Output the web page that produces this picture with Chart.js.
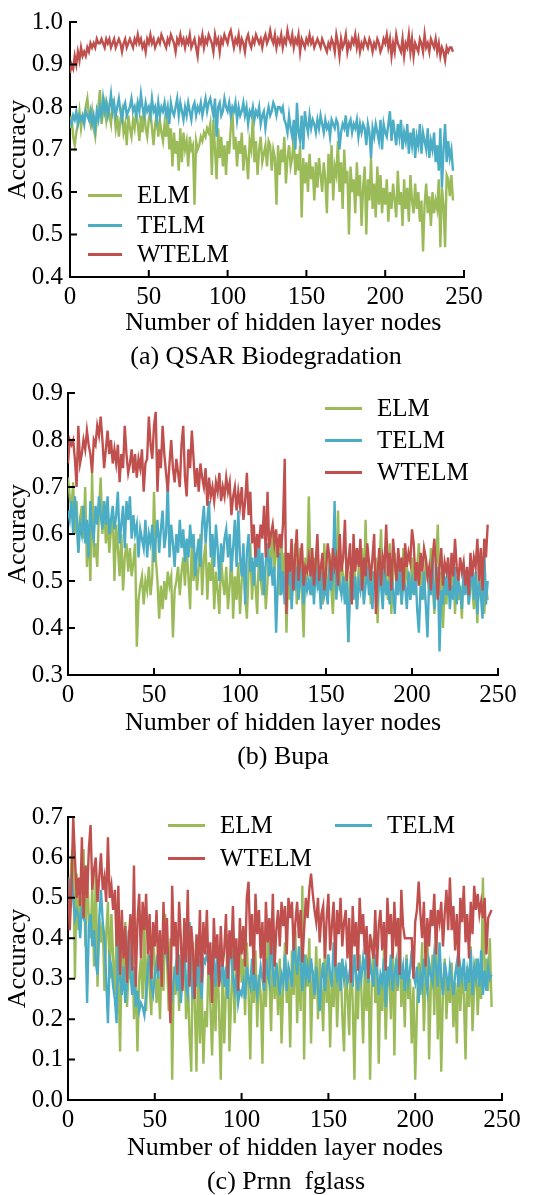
<!DOCTYPE html>
<html>
<head>
<meta charset="utf-8"/>
<title>Accuracy vs number of hidden layer nodes</title>
<script src="https://cdn.jsdelivr.net/npm/chart.js@4.4.0/dist/chart.umd.min.js"></script>
<style>
body{margin:0;background:#fff;width:546px;height:1195px;position:relative;overflow:hidden;font-family:"Liberation Serif","Times New Roman",serif;color:#000;}
canvas{position:absolute;left:0;}
.cap{position:absolute;font-size:26px;line-height:30px;white-space:pre;transform:translateX(-50%);}
.leg{position:absolute;font-size:25px;line-height:30px;display:flex;align-items:center;white-space:nowrap;}
.leg i{display:inline-block;height:3px;}
</style>
</head>
<body>
<canvas id="chartA" width="546" height="345" style="top:0px"></canvas>
<canvas id="chartB" width="546" height="380" style="top:370px"></canvas>
<canvas id="chartC" width="546" height="380" style="top:790px"></canvas>
<div class="cap" style="left:266px;top:341px">(a) QSAR Biodegradation</div>
<div class="cap" style="left:283px;top:741px">(b) Bupa</div>
<div class="cap" style="left:286px;top:1166px">(c) Prnn  fglass</div>
<div id="legends"></div>
<script>
// accuracy values in percent, one value per hidden node count (0, 1, 2, ...)
var qsarElm = [
75,78,73,71,74,76,79,75,78,77,80,82,78,76,79,75,73,77,80,84,
76,79,81,77,80,78,76,82,79,75,78,73,77,79,74,76,71,78,75,73,
77,75,79,76,72,78,74,80,75,73,77,79,75,71,76,78,73,77,74,72,
76,73,78,70,75,66,74,69,72,65,75,67,74,70,72,66,73,70,71,57,
72,70,71,73,72,74,73,75,74,76,64,77,70,63,75,68,73,66,71,64,
72,69,75,80,70,73,66,72,69,74,65,71,68,63,72,70,78,67,72,64,
70,73,67,69,71,66,72,71,65,70,68,57,71,64,70,67,73,62,68,71,
66,68,73,64,69,65,71,54,68,62,67,60,69,63,66,58,67,61,68,64,
60,67,63,55,69,62,71,58,66,64,72,60,67,56,70,62,65,50,66,60,
63,55,67,59,64,52,61,66,50,63,58,68,56,62,54,66,57,64,55,61,
57,63,53,60,56,62,58,54,65,57,60,52,63,56,61,53,64,58,55,62,
56,60,53,58,46,57,62,55,59,52,60,55,58,56,63,47,61,57,47,64,
63,59,64,58];
var qsarTelm = [
77,76,78,77,79,76,78,77,78,76,79,78,77,79,76,78,75,79,77,80,
78,82,79,81,78,80,83,79,81,78,80,82,79,77,80,81,78,79,80,82,
79,80,78,81,79,83,80,78,81,79,80,78,82,79,80,77,81,78,80,79,
81,78,80,76,81,79,78,80,82,78,81,79,77,80,78,81,79,77,80,81,
78,80,79,81,78,80,82,79,81,82,80,78,82,73,80,81,78,79,82,80,
79,81,78,80,79,81,77,80,78,79,81,78,80,76,79,78,80,77,79,78,
80,76,78,79,75,78,80,78,79,81,80,78,80,80,79,80,77,76,74,78,
75,73,77,70,81,74,72,78,70,79,76,74,78,75,77,76,74,77,75,78,
76,74,77,75,76,73,77,76,75,77,76,70,74,76,75,78,73,76,77,74,
76,75,77,73,76,74,76,75,71,76,74,68,75,73,76,74,72,77,70,76,
74,73,76,79,72,77,74,71,76,73,77,70,74,72,76,69,74,71,75,68,
73,71,76,69,74,72,70,75,68,72,70,74,67,71,65,75,61,70,76,67,
72,68,70,65];
var qsarWtelm = [
88,90,89,92,90,93,91,94,92,93,92,94,93,95,94,95,94,96,95,95,
96,95,94,96,95,96,94,95,96,94,95,96,95,93,95,96,94,95,96,95,
94,96,95,97,95,96,94,95,93,96,95,97,95,96,94,95,96,95,97,96,
95,94,96,95,97,96,95,93,96,95,97,95,96,94,96,95,97,94,95,96,
94,92,96,95,97,94,96,95,97,96,95,93,97,95,96,93,96,95,97,96,
95,97,98,96,94,96,95,97,94,96,95,93,96,97,95,94,96,95,97,96,
95,96,94,96,97,95,96,98,96,95,97,94,96,95,97,94,96,95,98,96,
95,97,94,96,95,97,93,96,95,94,96,95,97,95,96,94,95,96,95,94,
96,95,94,93,95,94,96,95,93,97,95,92,96,94,95,97,93,95,94,96,
95,97,94,96,93,95,94,96,95,94,96,95,93,95,94,96,95,93,94,96,
95,97,94,96,92,95,93,97,95,94,93,96,92,95,94,97,93,96,92,95,
94,93,96,95,93,97,94,95,93,96,95,94,96,93,95,92,94,93,91,94,
93,94,94,93];

var bupaElm = [
72,68,65,71,60,67,56,63,66,59,70,53,62,50,73,55,58,53,65,72,
60,67,58,63,56,61,65,50,62,57,51,60,48,55,58,52,57,51,54,58,
36,46,49,51,45,50,48,53,47,51,69,55,50,42,49,44,50,46,52,49,
51,38,48,50,53,47,52,55,49,57,51,44,59,50,56,48,53,60,47,55,
58,46,54,50,56,44,52,48,43,55,50,47,53,44,49,57,42,51,46,54,
43,50,55,47,42,52,58,46,54,49,43,56,51,47,53,44,50,57,54,60,
52,58,55,47,60,50,56,39,52,46,54,49,58,45,51,57,48,38,55,50,
68,52,47,55,50,57,48,53,45,58,51,47,56,49,43,53,50,65,48,54,
51,46,55,37,52,48,56,50,44,53,49,57,46,63,50,54,45,52,48,55,
41,53,61,47,55,50,46,58,43,52,56,48,54,50,45,57,49,53,51,46,
55,50,47,53,58,49,52,46,55,51,48,57,50,43,53,62,47,52,40,49,
45,53,50,47,55,43,51,46,49,42,53,48,51,45,52,49,44,50,41,54,
47,51,43,49,46];
var bupaTelm = [
65,63,67,60,68,64,56,62,60,66,58,63,55,67,61,59,66,62,68,64,
61,67,62,68,60,63,66,61,64,69,58,62,66,57,67,63,68,59,64,60,
62,55,61,59,57,63,55,60,58,62,54,59,63,56,61,65,57,60,71,55,
62,58,53,60,56,63,57,61,54,59,55,62,57,60,51,56,59,53,62,66,
58,63,67,55,60,53,62,57,50,58,54,59,61,55,60,52,57,63,53,65,
55,51,58,45,56,60,52,55,49,57,53,59,50,56,47,54,58,51,55,49,
53,39,50,56,47,52,45,53,49,55,44,51,48,53,46,50,52,45,51,48,
50,47,52,45,53,49,51,44,52,47,49,45,53,48,51,67,46,52,49,47,
51,45,50,37,48,53,46,51,44,50,48,52,45,49,53,47,50,44,52,48,
46,51,49,44,53,47,50,45,52,48,43,51,47,53,45,50,49,44,52,46,
50,47,53,44,39,49,46,52,45,38,51,47,55,44,49,53,35,48,45,51,
47,52,44,49,46,53,45,50,48,44,52,47,51,45,49,54,46,52,43,50,
47,42,57,45,50];
var bupaWtelm = [
75,80,79,80,76,70,83,75,77,80,78,82,79,77,73,80,79,83,81,85,
80,74,78,82,77,80,75,78,75,79,71,77,74,83,77,73,75,78,73,77,
72,76,74,78,69,75,76,85,79,76,83,86,69,78,74,83,77,73,69,75,
80,74,71,76,73,70,79,83,72,68,78,74,82,76,70,74,69,75,72,70,
74,66,72,68,70,67,71,69,73,67,70,68,72,69,71,64,68,70,65,69,
66,70,63,67,73,64,69,58,62,55,60,57,62,59,66,55,69,57,60,62,
58,61,55,60,57,62,76,43,56,52,59,48,55,61,50,54,58,49,53,52,
55,51,57,49,54,60,50,53,56,48,52,58,55,50,57,53,55,49,60,52,
55,63,50,54,58,45,60,52,57,53,59,48,55,51,58,54,50,55,60,43,
52,57,49,55,53,62,51,56,48,59,54,50,57,52,55,48,58,53,56,54,
61,58,50,54,49,56,52,57,55,51,53,48,55,59,52,46,53,57,49,54,
52,55,48,56,51,59,53,50,55,52,54,49,53,47,56,51,55,53,59,50,
57,48,59,55,62];

var glassElm = [
55,48,60,63,30,56,42,50,45,62,38,58,44,40,53,33,56,28,45,39,
44,27,41,49,30,46,35,26,42,31,12,38,27,44,23,33,30,39,20,32,
12,30,35,25,44,22,36,28,21,40,34,24,31,20,37,27,46,35,22,40,
5,33,26,38,22,35,28,41,20,31,16,7,39,24,7,35,14,28,9,22,
18,36,24,11,30,17,38,22,5,32,14,28,41,12,25,37,19,33,26,40,
29,35,21,39,27,10,33,24,37,18,31,26,9,35,23,40,30,17,38,25,
33,21,35,14,28,39,24,31,13,37,26,42,19,34,22,53,10,36,28,40,
14,32,25,38,20,35,27,17,39,24,33,13,30,23,37,18,29,34,21,12,
33,26,16,38,24,5,31,20,36,27,14,33,22,38,5,29,40,24,34,9,
31,22,37,15,29,33,20,41,11,35,27,45,23,32,18,36,25,30,14,28,
5,22,34,26,39,17,31,43,10,28,36,21,44,15,32,7,27,35,20,30,
24,34,18,29,14,37,22,31,26,10,33,23,38,17,28,35,21,30,25,55,
30,35,27,40,23];
var glassTelm = [
55,52,56,50,45,47,46,40,48,45,44,24,43,46,38,42,34,31,45,52,
44,40,30,19,35,33,28,25,19,45,30,26,33,24,29,42,31,26,33,23,
27,22,24,23,21,26,33,36,28,26,31,34,30,38,37,42,40,35,32,29,
26,30,33,27,36,24,31,38,28,26,44,30,25,33,28,36,29,25,35,34,
36,34,31,33,35,28,36,32,30,34,28,33,25,35,38,30,27,31,24,27,
26,29,25,33,30,28,35,27,31,26,29,33,30,27,35,31,29,44,32,28,
34,30,26,31,29,36,27,33,31,28,40,35,31,38,34,27,36,30,33,29,
35,31,26,33,28,22,30,34,27,32,36,31,28,39,33,30,34,27,35,30,
33,29,31,34,28,36,31,27,33,30,35,32,37,29,34,31,28,36,32,26,
31,29,35,23,33,30,36,27,31,34,28,38,30,33,27,35,29,32,37,31,
29,33,24,31,28,35,30,27,34,31,29,36,33,28,39,30,26,34,31,27,
33,30,26,31,34,28,33,30,35,27,32,29,37,26,33,30,35,28,37,26,
32,27,33,30,31];
var glassWtelm = [
55,42,52,70,60,50,55,48,65,45,58,50,62,68,52,57,60,49,55,61,
52,55,49,65,50,53,47,52,38,53,31,47,35,43,29,40,46,32,58,28,
44,51,35,49,42,51,36,46,30,44,38,47,32,42,28,49,36,45,30,19,
53,38,44,31,49,40,27,45,34,52,28,43,37,25,41,33,47,29,44,36,
47,31,39,24,45,35,41,28,43,33,37,46,30,42,35,48,32,40,27,45,
36,43,33,50,54,38,46,31,51,41,47,35,44,29,49,39,45,36,51,33,
42,47,38,49,43,48,36,50,45,49,37,44,49,40,47,34,42,50,45,52,
56,51,47,44,50,39,46,48,35,45,51,37,43,49,33,47,41,50,38,44,
47,35,45,29,48,38,44,32,50,41,46,36,43,30,41,38,35,47,33,43,
47,37,44,32,50,41,46,35,49,38,45,31,52,43,40,40,40,40,40,30,
44,47,54,46,40,49,33,45,38,47,43,51,36,47,44,49,38,46,52,42,
55,42,48,37,46,33,50,44,53,39,46,35,49,41,53,47,51,46,49,45,
50,36,45,46,47];

var nodeTicks = [0, 50, 100, 150, 200, 250];
var qsarTicks = [0.4, 0.5, 0.6, 0.7, 0.8, 0.9, 1.0];
var bupaTicks = [0.3, 0.4, 0.5, 0.6, 0.7, 0.8, 0.9];
var glassTicks = [0.0, 0.1, 0.2, 0.3, 0.4, 0.5, 0.6, 0.7];

var GREEN = '#9bbb59', BLUE = '#4bacc6', RED = '#c0504d';
var SERIF = "'Liberation Serif', 'Times New Roman', serif";

// tick marks pointing into the plot
var innerTicks = {
  id: 'innerTicks',
  afterDraw: function(chart) {
    var ctx = chart.ctx, a = chart.chartArea, x = chart.scales.x, y = chart.scales.y;
    ctx.save();
    ctx.strokeStyle = '#000';
    ctx.lineWidth = 2;
    ctx.beginPath();
    x.ticks.forEach(function(t) {
      var px = x.getPixelForValue(t.value);
      ctx.moveTo(px, a.bottom); ctx.lineTo(px, a.bottom - 7);
    });
    y.ticks.forEach(function(t) {
      var py = y.getPixelForValue(t.value);
      ctx.moveTo(a.left, py); ctx.lineTo(a.left + 7, py);
    });
    ctx.stroke();
    ctx.restore();
  }
};

function makeChart(id, series, yTicks, o) {
  var sets = series.map(function(s) {
    return {
      label: s.name,
      data: s.vals.map(function(v, i) { return {x: i, y: v / 100}; }),
      borderColor: s.color,
      borderWidth: 2.4,
      pointRadius: 0,
      tension: 0,
      fill: false
    };
  });
  var chart = new Chart(document.getElementById(id), {
    type: 'line',
    data: {datasets: sets},
    plugins: [innerTicks],
    options: {
      responsive: false,
      animation: false,
      events: [],
      layout: {padding: o.pad},
      plugins: {legend: {display: false}, tooltip: {enabled: false}},
      scales: {
        x: {
          type: 'linear', min: 0, max: 250,
          afterBuildTicks: function(s) { s.ticks = nodeTicks.map(function(v) { return {value: v}; }); },
          afterFit: function(s) { s.height = o.xh; },
          grid: {display: false, drawTicks: false},
          border: {display: true, color: '#000', width: 2},
          ticks: {color: '#000', padding: 5, maxRotation: 0, font: {family: SERIF, size: 25}},
          title: {display: true, text: o.xTitle, color: '#000',
                  font: {family: SERIF, size: 26}, padding: {top: 0, bottom: 0}}
        },
        y: {
          type: 'linear', min: yTicks[0], max: yTicks[yTicks.length - 1],
          afterBuildTicks: function(s) { s.ticks = yTicks.map(function(v) { return {value: v}; }); },
          afterFit: function(s) { s.width = o.yw; },
          grid: {display: false, drawTicks: false},
          border: {display: true, color: '#000', width: 2},
          ticks: {color: '#000', padding: o.yp, font: {family: SERIF, size: 25},
                  callback: function(v) { return Number(v).toFixed(1); }},
          title: {display: true, text: 'Accuracy', color: '#000',
                  font: {family: SERIF, size: 26}, padding: {top: 3, bottom: 0}}
        }
      }
    }
  });
  // legend built from the datasets
  var box = document.getElementById('legends');
  o.legend.forEach(function(p) {
    var ds = chart.data.datasets[p.i];
    var d = document.createElement('div');
    d.className = 'leg';
    d.style.left = p.x + 'px';
    d.style.top = (p.y - 15) + 'px';
    d.innerHTML = '<i style="width:' + p.w + 'px;margin-right:' + p.gap + 'px;background:' + ds.borderColor + '"></i>' + ds.label;
    box.appendChild(d);
  });
  return chart;
}

makeChart('chartA', [
  {name: 'WTELM', vals: qsarWtelm, color: RED},
  {name: 'TELM', vals: qsarTelm, color: BLUE},
  {name: 'ELM', vals: qsarElm, color: GREEN}
], qsarTicks, {
  pad: {top: 20, right: 82, bottom: 6, left: 0}, yw: 70, xh: 62, yp: 7,
  xTitle: '     Number of hidden layer nodes',
  legend: [
    {i: 2, x: 88, y: 195, w: 34, gap: 15},
    {i: 1, x: 88, y: 225, w: 34, gap: 15},
    {i: 0, x: 88, y: 254, w: 34, gap: 15}
  ]
});

makeChart('chartB', [
  {name: 'WTELM', vals: bupaWtelm, color: RED},
  {name: 'TELM', vals: bupaTelm, color: BLUE},
  {name: 'ELM', vals: bupaElm, color: GREEN}
], bupaTicks, {
  pad: {top: 23, right: 48, bottom: 11, left: 0}, yw: 68, xh: 64, yp: 5,
  xTitle: 'Number of hidden layer nodes',
  legend: [
    {i: 2, x: 325, y: 408, w: 37, gap: 15},
    {i: 1, x: 325, y: 440, w: 37, gap: 15},
    {i: 0, x: 325, y: 472, w: 37, gap: 15}
  ]
});

makeChart('chartC', [
  {name: 'WTELM', vals: glassWtelm, color: RED},
  {name: 'TELM', vals: glassTelm, color: BLUE},
  {name: 'ELM', vals: glassElm, color: GREEN}
], glassTicks, {
  pad: {top: 27, right: 44, bottom: 6, left: 0}, yw: 68, xh: 64, yp: 5,
  xTitle: 'Number of hidden layer nodes',
  legend: [
    {i: 2, x: 168, y: 825, w: 37, gap: 15},
    {i: 0, x: 168, y: 858, w: 37, gap: 15},
    {i: 1, x: 335, y: 825, w: 37, gap: 15}
  ]
});
</script>
</body>
</html>
